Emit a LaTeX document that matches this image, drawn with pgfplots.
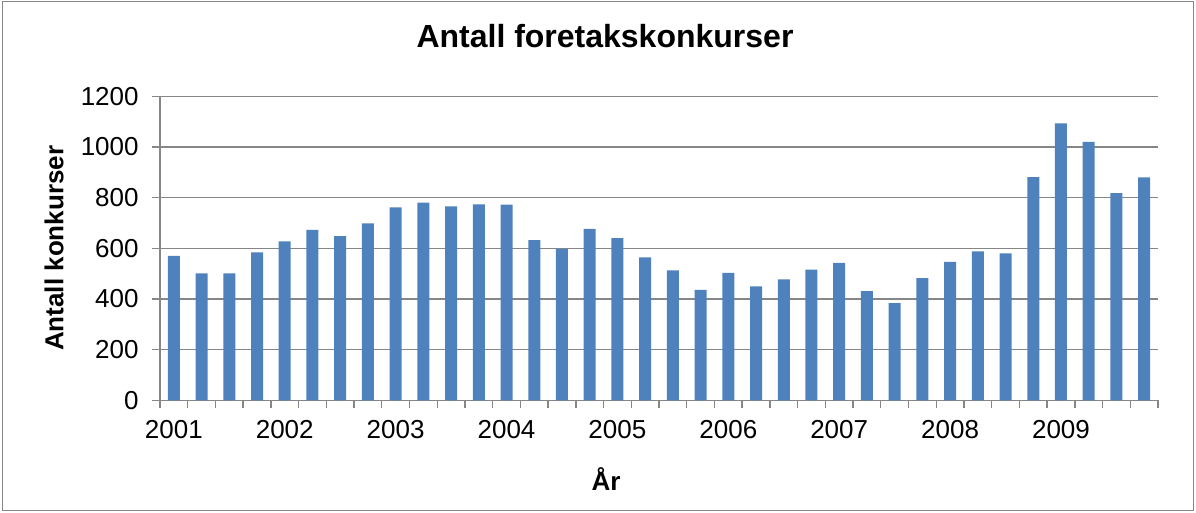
\documentclass[border=0pt]{standalone}
\usepackage{pgfplots}
\pgfplotsset{compat=1.18}
\usepackage{fontspec}
\setmainfont{Liberation Sans}
\definecolor{barblue}{HTML}{4F81BD}
\definecolor{axgray}{HTML}{868686}
\begin{document}
\begin{tikzpicture}
\useasboundingbox (-80pt,-56.35pt) rectangle (518pt,200.15pt);
\draw[axgray, line width=0.7pt] (-78.6pt,-55.2pt) rectangle (516.6pt,199.3pt);
\begin{axis}[
  at={(0,0)}, anchor=south west, scale only axis,
  width=499pt, height=152pt,
  xmin=-0.5, xmax=35.5, ymin=0, ymax=1200,
  ytick={0,200,...,1200},
  xtick={-0.5,0.5,...,35.5}, xticklabels={},
  extra x ticks={0,4,8,12,16,20,24,28,32},
  extra x tick labels={2001,2002,2003,2004,2005,2006,2007,2008,2009},
  extra x tick style={major tick length=0pt, grid=none},
  axis x line*=bottom, axis y line*=left,
  axis line style={-, axgray, line width=0.7pt},
  tick style={axgray, line width=0.7pt},
  tick align=outside, major tick length=4pt,
  ymajorgrids, grid style={axgray, line width=0.7pt},
  /pgf/number format/assume math mode=true,
  /pgf/number format/1000 sep={},
  ticklabel style={font=\fontsize{13}{15}\selectfont, text=black},
  yticklabel style={anchor=east, inner sep=0pt, xshift=-6.5pt},
  xticklabel style={anchor=north, inner sep=0pt, yshift=-10pt},
  title={Antall foretakskonkurser},
  title style={at={(axis description cs:0.4459,1.1197)}, anchor=base, font=\fontsize{16}{19}\selectfont\bfseries},
  xlabel={År},
  xlabel style={at={(axis description cs:0.4469,-0.2951)}, anchor=base, font=\fontsize{13}{15}\selectfont\bfseries},
  ylabel={Antall konkurser},
  ylabel style={at={(axis description cs:-0.1062,0.5)}, anchor=center, rotate=0, font=\fontsize{13}{15}\selectfont\bfseries},
]
\addplot[ybar, bar width=6pt, fill=barblue, draw=none] coordinates {
(0,570) (1,501) (2,501) (3,584) (4,627) (5,673) (6,648) (7,698)
(8,762) (9,780) (10,765) (11,773) (12,772) (13,632) (14,598) (15,677)
(16,640) (17,564) (18,513) (19,436) (20,503) (21,450) (22,477) (23,516)
(24,542) (25,431) (26,384) (27,482) (28,546) (29,588) (30,580) (31,881)
(32,1093) (33,1020) (34,818) (35,880)
};
\end{axis}
\end{tikzpicture}
\end{document}
